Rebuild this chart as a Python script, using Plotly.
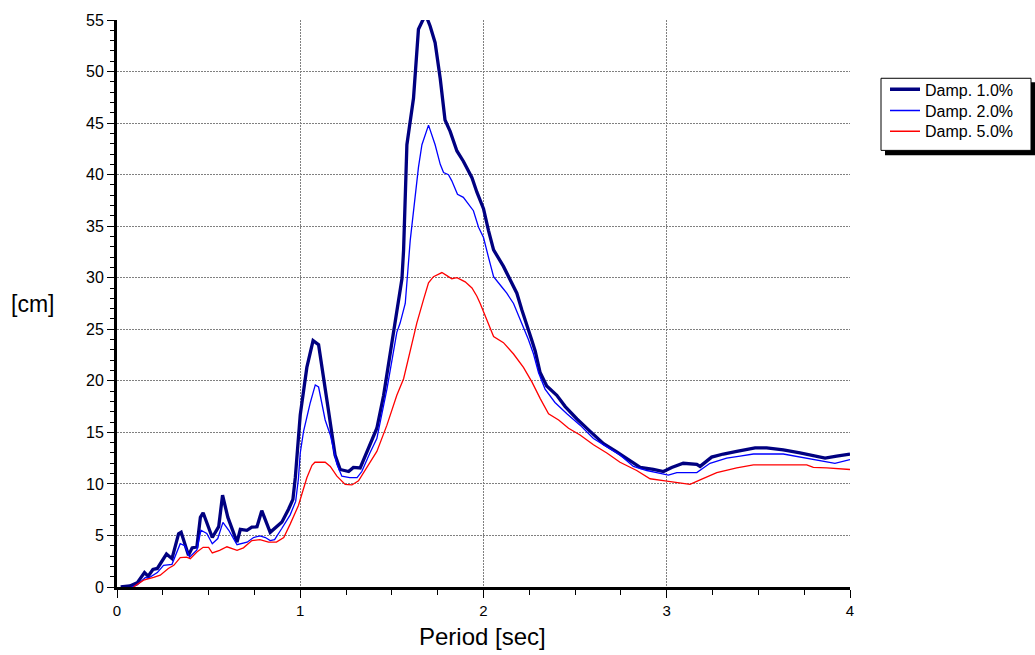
import plotly.graph_objects as go

# Displacement response spectra for three damping ratios
period_d1 = [0.02, 0.07, 0.11, 0.15, 0.17, 0.196, 0.22, 0.27, 0.30, 0.336, 0.35, 0.39, 0.41, 0.436,
             0.455, 0.47, 0.52, 0.555, 0.576, 0.605, 0.655, 0.673, 0.709, 0.736, 0.764, 0.79, 0.836,
             0.873, 0.9, 0.936, 0.96, 0.973, 0.985, 1.0, 1.036, 1.07, 1.1, 1.127, 1.155, 1.19, 1.218,
             1.264, 1.29, 1.327, 1.373, 1.418, 1.455, 1.49, 1.518, 1.536, 1.555, 1.564, 1.582, 1.618,
             1.645, 1.669, 1.687, 1.709, 1.736, 1.764, 1.79, 1.818, 1.855, 1.89, 1.937, 1.964, 2.0,
             2.027, 2.055, 2.109, 2.146, 2.182, 2.209, 2.236, 2.264, 2.282, 2.309, 2.345, 2.4, 2.446,
             2.51, 2.582, 2.655, 2.727, 2.79, 2.855, 2.927, 2.982, 3.027, 3.09, 3.164, 3.182, 3.245,
             3.309, 3.382, 3.482, 3.545, 3.636, 3.727, 3.8, 3.864, 3.927, 4.0]
disp_d1 = [0.0, 0.1, 0.4, 1.4, 1.05, 1.7, 1.8, 3.2, 2.75, 5.15, 5.3, 3.07, 3.8, 3.9,
           6.75, 7.2, 4.8, 5.85, 8.9, 6.75, 4.35, 5.6, 5.5, 5.8, 5.85, 7.4, 5.3,
           5.85, 6.3, 7.55, 8.5, 10.6, 13.5, 16.7, 21.3, 23.9, 23.5, 20.5, 17.0, 12.8, 11.4,
           11.2, 11.6, 11.55, 13.5, 15.4, 18.6, 22.4, 25.6, 27.7, 29.9, 32.7, 42.9, 47.4,
           54.1, 55.0, 55.4, 54.4, 52.8, 49.3, 45.3, 44.2, 42.3, 41.3, 39.7, 38.3, 36.7,
           34.6, 32.7, 31.1, 29.8, 28.5, 26.9, 25.3, 23.9, 22.9, 20.8, 19.5, 18.6, 17.5,
           16.3, 15.1, 13.9, 13.1, 12.35, 11.6, 11.4, 11.2, 11.6, 12.0, 11.9, 11.7, 12.6,
           12.9, 13.15, 13.5, 13.5, 13.3, 13.0, 12.7, 12.5, 12.7, 12.9]

period_d2 = [0.08, 0.11, 0.155, 0.17, 0.22, 0.254, 0.30, 0.345, 0.37, 0.396, 0.436, 0.458, 0.49,
             0.52, 0.55, 0.578, 0.61, 0.655, 0.71, 0.745, 0.78, 0.81, 0.836, 0.86, 0.9, 0.945,
             0.975, 0.99, 1.0, 1.018, 1.055, 1.082, 1.1, 1.136, 1.164, 1.2, 1.227, 1.27, 1.31,
             1.336, 1.38, 1.418, 1.473, 1.527, 1.545, 1.573, 1.6, 1.627, 1.645, 1.664, 1.7, 1.736,
             1.764, 1.782, 1.809, 1.827, 1.858, 1.89, 1.918, 1.945, 1.973, 2.0, 2.027, 2.055, 2.1,
             2.127, 2.164, 2.209, 2.245, 2.273, 2.3, 2.336, 2.39, 2.455, 2.527, 2.6, 2.673, 2.745,
             2.818, 2.891, 2.945, 3.009, 3.055, 3.164, 3.236, 3.327, 3.4, 3.473, 3.636, 3.764,
             3.845, 3.918, 4.0]
disp_d2 = [0.0, 0.2, 0.93, 0.85, 1.4, 2.1, 2.2, 4.2, 4.0, 2.9, 3.6, 5.5, 5.2,
           4.2, 4.7, 6.27, 5.5, 4.1, 4.35, 4.8, 4.95, 4.8, 4.5, 4.6, 5.7, 7.0,
           8.3, 10.5, 13.0, 15.1, 17.9, 19.6, 19.4, 16.2, 14.75, 11.9, 10.75, 10.6, 10.6,
           11.2, 13.0, 14.4, 19.2, 24.7, 25.6, 27.5, 33.6, 37.8, 40.7, 42.9, 44.8, 42.9,
           41.0, 40.2, 40.0, 39.4, 38.1, 37.8, 37.1, 36.5, 34.9, 33.9, 32.0, 30.1, 29.1,
           28.5, 27.5, 25.6, 24.0, 22.6, 20.8, 19.2, 17.9, 16.8, 15.7, 14.4, 13.6, 12.8,
           11.7, 11.3, 11.1, 10.85, 11.1, 11.1, 12.0, 12.5, 12.7, 12.9, 12.9, 12.5,
           12.2, 12.0, 12.35]

period_d5 = [0.09, 0.145, 0.2, 0.236, 0.28, 0.31, 0.345, 0.38, 0.4, 0.436, 0.47, 0.5, 0.52,
             0.56, 0.6, 0.655, 0.69, 0.736, 0.78, 0.827, 0.87, 0.91, 0.945, 0.99, 1.036, 1.064,
             1.08, 1.136, 1.164, 1.2, 1.245, 1.282, 1.318, 1.364, 1.418, 1.473, 1.527, 1.564,
             1.609, 1.636, 1.673, 1.7, 1.727, 1.773, 1.8, 1.827, 1.855, 1.9, 1.937, 1.964, 1.982,
             2.018, 2.055, 2.109, 2.164, 2.218, 2.264, 2.309, 2.355, 2.41, 2.464, 2.527, 2.6,
             2.673, 2.745, 2.836, 2.909, 2.991, 3.073, 3.127, 3.182, 3.273, 3.382, 3.473, 3.764,
             3.8, 3.873, 3.945, 4.0]
disp_d5 = [0.0, 0.67, 0.93, 1.15, 1.8, 2.1, 2.85, 2.9, 2.75, 3.4, 3.85, 3.85, 3.3,
           3.55, 3.9, 3.55, 3.8, 4.5, 4.6, 4.35, 4.35, 4.8, 6.1, 7.9, 10.6, 11.8,
           12.1, 12.1, 11.7, 10.75, 9.95, 9.9, 10.3, 11.55, 13.15, 15.7, 18.6, 20.2,
           23.4, 25.6, 27.9, 29.5, 30.1, 30.5, 30.2, 29.9, 30.0, 29.6, 29.0, 28.2, 27.5,
           25.9, 24.3, 23.7, 22.6, 21.3, 19.9, 18.3, 16.8, 16.2, 15.4, 14.75, 13.8,
           13.0, 12.1, 11.3, 10.5, 10.3, 10.1, 9.95, 10.4, 11.1, 11.55, 11.85, 11.85,
           11.6, 11.55, 11.45, 11.4]

series_names = ["Damp. 1.0%", "Damp. 2.0%", "Damp. 5.0%"]
series_colors = ["#000080", "#0000FF", "#FF0000"]
series_widths = [3.3, 1.3, 1.3]

FONT = "Liberation Sans, Arial, sans-serif"

# plot area in pixels: left 117, right 850, top 13, bottom 587
L, R, T, B = 117, 850, 13, 587
W, H = 1035, 655


def pxx(v):
    return (v - L) / (R - L)


def pxy(v):
    return (B - v) / (B - T)


# one single-entry legend per series so the rows sit tightly inside the frame
legend_ids = ["legend", "legend2", "legend3"]
legend_rows = [88, 109.5, 130.5]

fig = go.Figure()
for px_, py_, name, color, width, lid in zip(
        [period_d1, period_d2, period_d5], [disp_d1, disp_d2, disp_d5],
        series_names, series_colors, series_widths, legend_ids):
    fig.add_trace(go.Scatter(x=px_, y=py_, mode="lines", name=name, legend=lid,
                             line=dict(color=color, width=width)))

axis_common = dict(
    showline=True, linecolor="black", linewidth=3,
    ticks="outside", tickcolor="black", tickwidth=1,
    showgrid=True, gridcolor="#808080", gridwidth=1, griddash="1.5px,1.5px",
    zeroline=False,
)

fig.update_xaxes(range=[0, 4], tick0=0, dtick=1, ticklen=8,
                 tickfont=dict(family=FONT, size=15, color="black"),
                 minor=dict(dtick=0.25, ticks="outside", ticklen=5, tickcolor="black",
                            showgrid=False),
                 **axis_common)
fig.update_yaxes(range=[0, 55], tick0=0, dtick=5, ticklen=7,
                 tickfont=dict(family=FONT, size=16, color="black"),
                 minor=dict(dtick=1, ticks="outside", ticklen=4, tickcolor="black",
                            showgrid=False),
                 **axis_common)

# legend frame with drop shadow
fig.add_shape(type="rect", xref="paper", yref="paper",
              x0=pxx(885), x1=pxx(1035), y0=pxy(150), y1=pxy(76),
              fillcolor="black", line=dict(width=0), layer="above")
fig.add_shape(type="rect", xref="paper", yref="paper",
              x0=pxx(881), x1=pxx(1031), y0=pxy(145), y1=pxy(72),
              fillcolor="white", line=dict(color="black", width=1), layer="above")

fig.add_annotation(text="[cm]", xref="paper", yref="paper", x=pxx(32), y=pxy(300),
                   showarrow=False, font=dict(family=FONT, size=23, color="black"),
                   xanchor="center", yanchor="middle")
fig.add_annotation(text="Period [sec]", xref="paper", yref="paper", x=pxx(482), y=pxy(637),
                   showarrow=False, font=dict(family=FONT, size=24, color="black"),
                   xanchor="center", yanchor="middle")

legend_style = dict(xanchor="left", yanchor="top", bgcolor="rgba(0,0,0,0)", borderwidth=0,
                    font=dict(family=FONT, size=16, color="black"), itemwidth=30)
layout_legends = {lid: dict(x=pxx(885), y=pxy(row - 22), **legend_style)
                  for lid, row in zip(legend_ids, legend_rows)}

fig.update_layout(
    width=W, height=H,
    margin=dict(l=L, r=W - R, t=T, b=H - B),
    paper_bgcolor="white", plot_bgcolor="white",
    font=dict(family=FONT, color="black"),
    showlegend=True,
    **layout_legends,
)

fig.write_html("out.html")
